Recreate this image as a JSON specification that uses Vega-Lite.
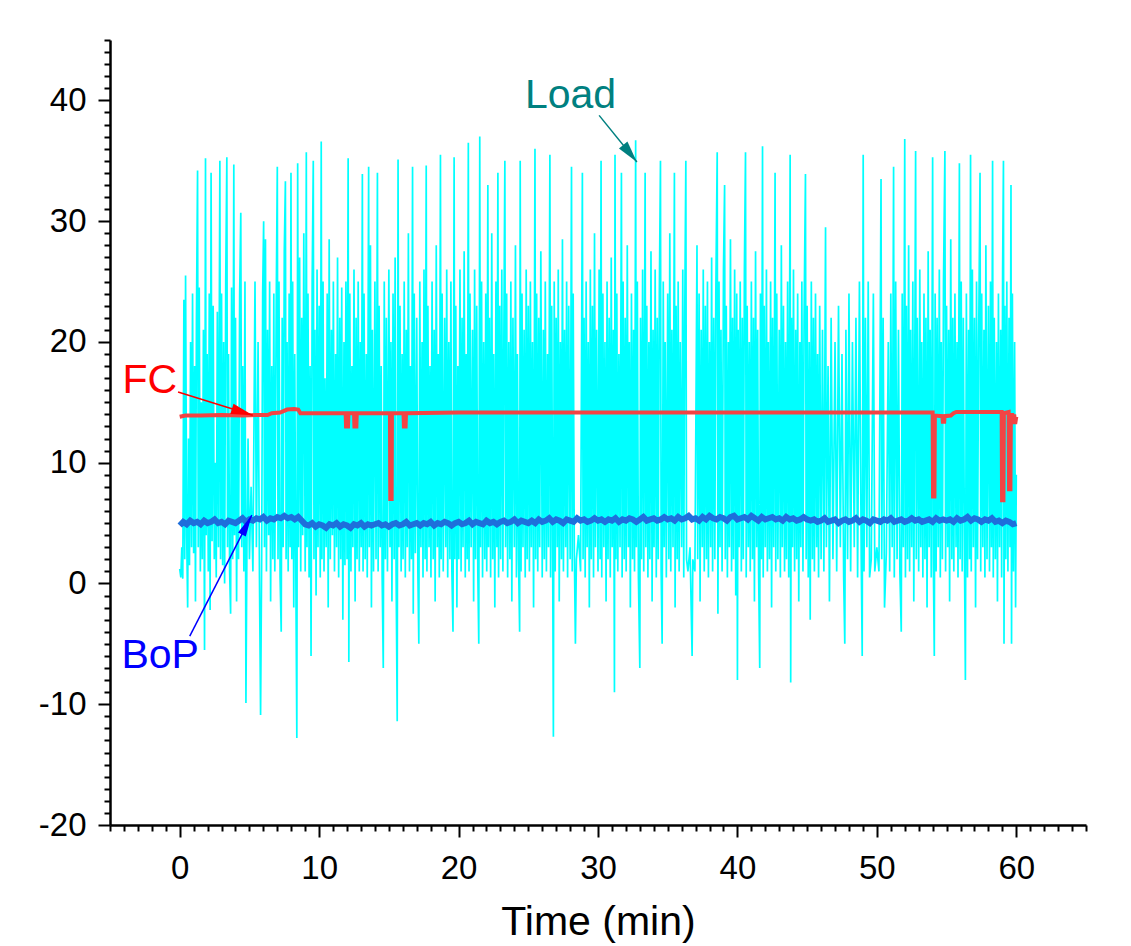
{
"$schema":"https://vega.github.io/schema/vega-lite/v6.json",
"width":976,"height":785,
"autosize":"none",
"padding":{"left":110,"top":40,"right":45,"bottom":121},
"config":{"view":{"stroke":null},"font":"Liberation Sans"},
"datasets":{
"load":[
{"t":0,"v":1.2},{"t":0.08,"v":0.5},{"t":0.15,"v":3},{"t":0.22,"v":0.4},{"t":0.3,"v":23.5},{"t":0.36,"v":2},{"t":0.42,"v":25.5},{"t":0.5,"v":4},{"t":0.57,"v":-2},{"t":0.63,"v":12},{"t":0.7,"v":1.5},{"t":0.78,"v":20},{"t":0.85,"v":3},{"t":0.92,"v":24},
{"t":1,"v":2.5},{"t":1.07,"v":18},{"t":1.13,"v":-1.5},{"t":1.2,"v":22},{"t":1.28,"v":34.2},{"t":1.33,"v":3},{"t":1.4,"v":24.5},{"t":1.48,"v":1},{"t":1.55,"v":15},{"t":1.62,"v":2},{"t":1.7,"v":21},{"t":1.78,"v":-5.5},{"t":1.85,"v":35.2},{"t":1.9,"v":4},{"t":1.97,"v":19},
{"t":2.05,"v":1},{"t":2.12,"v":24},{"t":2.18,"v":-2.2},{"t":2.25,"v":34},{"t":2.32,"v":3.5},{"t":2.4,"v":23},{"t":2.48,"v":2},{"t":2.55,"v":10},{"t":2.62,"v":0.5},{"t":2.7,"v":22.5},{"t":2.78,"v":3},{"t":2.88,"v":35},{"t":2.93,"v":2},
{"t":3,"v":24},{"t":3.08,"v":1.5},{"t":3.15,"v":20},{"t":3.22,"v":0},{"t":3.3,"v":25},{"t":3.38,"v":35.3},{"t":3.43,"v":3},{"t":3.5,"v":19},{"t":3.58,"v":1},{"t":3.65,"v":-2.5},{"t":3.72,"v":24.5},{"t":3.8,"v":2},{"t":3.88,"v":34.7},{"t":3.93,"v":4},
{"t":4,"v":22},{"t":4.08,"v":-1.5},{"t":4.15,"v":14},{"t":4.22,"v":2},{"t":4.3,"v":24},{"t":4.38,"v":30.7},{"t":4.45,"v":3},{"t":4.52,"v":18},{"t":4.6,"v":1},{"t":4.68,"v":25},{"t":4.75,"v":-9.9},{"t":4.82,"v":3},{"t":4.9,"v":12},
{"t":5,"v":2},{"t":5.12,"v":8},{"t":5.25,"v":1},{"t":5.4,"v":25},{"t":5.5,"v":3},{"t":5.62,"v":20},{"t":5.72,"v":0.5},{"t":5.8,"v":-10.9},{"t":5.88,"v":2.5},{"t":5.95,"v":24},
{"t":6.02,"v":30},{"t":6.08,"v":3},{"t":6.15,"v":28.5},{"t":6.22,"v":1},{"t":6.3,"v":21},{"t":6.38,"v":4},{"t":6.45,"v":25},{"t":6.52,"v":-1.5},{"t":6.6,"v":18},{"t":6.68,"v":2},{"t":6.75,"v":24},{"t":6.82,"v":1},{"t":6.92,"v":23},
{"t":7,"v":34.5},{"t":7.05,"v":2},{"t":7.12,"v":25},{"t":7.2,"v":0.5},{"t":7.28,"v":-4},{"t":7.35,"v":22},{"t":7.42,"v":3},{"t":7.5,"v":27.5},{"t":7.58,"v":33.3},{"t":7.63,"v":2},{"t":7.7,"v":20},{"t":7.78,"v":1},{"t":7.85,"v":24},{"t":7.92,"v":3},{"t":7.98,"v":34},
{"t":8.04,"v":2},{"t":8.1,"v":25},{"t":8.18,"v":-2},{"t":8.25,"v":19},{"t":8.32,"v":2.5},{"t":8.4,"v":-12.8},{"t":8.46,"v":34.8},{"t":8.52,"v":3},{"t":8.6,"v":27},{"t":8.68,"v":1},{"t":8.75,"v":22},{"t":8.82,"v":4},{"t":8.9,"v":29},
{"t":9,"v":1},{"t":9.08,"v":35.7},{"t":9.13,"v":3},{"t":9.2,"v":24},{"t":9.28,"v":0.5},{"t":9.35,"v":18},{"t":9.42,"v":-6},{"t":9.5,"v":25},{"t":9.58,"v":35},{"t":9.63,"v":2},{"t":9.7,"v":21},{"t":9.78,"v":-1},{"t":9.85,"v":26},{"t":9.92,"v":3},
{"t":10,"v":23},{"t":10.08,"v":0.5},{"t":10.15,"v":36.6},{"t":10.2,"v":2},{"t":10.28,"v":25},{"t":10.35,"v":1},{"t":10.42,"v":17},{"t":10.5,"v":3},{"t":10.58,"v":24},{"t":10.65,"v":-2},{"t":10.72,"v":28.5},{"t":10.8,"v":2},{"t":10.88,"v":21},{"t":10.95,"v":4},
{"t":11.02,"v":25},{"t":11.1,"v":1},{"t":11.18,"v":19},{"t":11.25,"v":3},{"t":11.32,"v":27},{"t":11.4,"v":0.5},{"t":11.48,"v":22},{"t":11.55,"v":2},{"t":11.62,"v":24.5},{"t":11.7,"v":-3},{"t":11.78,"v":20},{"t":11.85,"v":1.5},{"t":11.92,"v":25},
{"t":12,"v":2},{"t":12.08,"v":35.2},{"t":12.13,"v":-6.5},{"t":12.2,"v":24},{"t":12.28,"v":1},{"t":12.35,"v":18},{"t":12.42,"v":3},{"t":12.5,"v":26},{"t":12.58,"v":-1.5},{"t":12.65,"v":22},{"t":12.72,"v":2},{"t":12.8,"v":25},{"t":12.88,"v":1},{"t":12.95,"v":20},
{"t":13.02,"v":3},{"t":13.1,"v":33.9},{"t":13.15,"v":1},{"t":13.22,"v":24},{"t":13.3,"v":2},{"t":13.38,"v":19},{"t":13.45,"v":0.5},{"t":13.55,"v":34.5},{"t":13.6,"v":3},{"t":13.68,"v":28},{"t":13.75,"v":-2},{"t":13.82,"v":21},{"t":13.9,"v":1},
{"t":14,"v":25},{"t":14.08,"v":2},{"t":14.18,"v":34},{"t":14.23,"v":1},{"t":14.3,"v":23},{"t":14.38,"v":3},{"t":14.45,"v":18},{"t":14.52,"v":0.5},{"t":14.6,"v":-7},{"t":14.67,"v":25},{"t":14.75,"v":2},{"t":14.82,"v":22},{"t":14.9,"v":1},
{"t":15,"v":26},{"t":15.08,"v":3},{"t":15.15,"v":20},{"t":15.22,"v":-1.5},{"t":15.3,"v":24},{"t":15.38,"v":2},{"t":15.45,"v":27},{"t":15.52,"v":1},{"t":15.6,"v":-11.4},{"t":15.66,"v":35.1},{"t":15.72,"v":3},{"t":15.8,"v":23},{"t":15.88,"v":1},{"t":15.95,"v":19},
{"t":16.02,"v":2},{"t":16.1,"v":25},{"t":16.18,"v":0.5},{"t":16.25,"v":21},{"t":16.32,"v":3},{"t":16.4,"v":29},{"t":16.48,"v":1},{"t":16.55,"v":18},{"t":16.62,"v":2},{"t":16.7,"v":34.5},{"t":16.75,"v":-2.5},{"t":16.82,"v":24},{"t":16.9,"v":2.5},
{"t":17,"v":22},{"t":17.08,"v":1},{"t":17.15,"v":-5},{"t":17.22,"v":25},{"t":17.3,"v":3},{"t":17.38,"v":20},{"t":17.45,"v":0.5},{"t":17.52,"v":26},{"t":17.6,"v":2},{"t":17.68,"v":34.6},{"t":17.73,"v":1},{"t":17.8,"v":23},{"t":17.88,"v":3},{"t":17.95,"v":18},
{"t":18.02,"v":0.5},{"t":18.1,"v":25},{"t":18.18,"v":2},{"t":18.25,"v":21},{"t":18.32,"v":-1.5},{"t":18.4,"v":28},{"t":18.48,"v":3},{"t":18.55,"v":19},{"t":18.62,"v":0.5},{"t":18.7,"v":35.5},{"t":18.75,"v":2},{"t":18.82,"v":24},{"t":18.9,"v":1},
{"t":19,"v":22},{"t":19.08,"v":3},{"t":19.15,"v":26},{"t":19.22,"v":0.5},{"t":19.3,"v":20},{"t":19.38,"v":2},{"t":19.45,"v":25},{"t":19.52,"v":1},{"t":19.6,"v":-4},{"t":19.68,"v":35.3},{"t":19.73,"v":2},{"t":19.8,"v":23},{"t":19.88,"v":-2},{"t":19.95,"v":18},
{"t":20.02,"v":2},{"t":20.1,"v":26},{"t":20.18,"v":1},{"t":20.25,"v":22},{"t":20.32,"v":3},{"t":20.4,"v":27.5},{"t":20.48,"v":0.5},{"t":20.55,"v":19},{"t":20.62,"v":2},{"t":20.7,"v":36.5},{"t":20.75,"v":1},{"t":20.82,"v":24},{"t":20.9,"v":3},
{"t":21,"v":21},{"t":21.08,"v":-1.5},{"t":21.15,"v":26},{"t":21.22,"v":2},{"t":21.3,"v":23},{"t":21.38,"v":1},{"t":21.45,"v":-5},{"t":21.52,"v":37},{"t":21.57,"v":3},{"t":21.65,"v":25},{"t":21.72,"v":0.5},{"t":21.8,"v":20},{"t":21.88,"v":2},{"t":21.95,"v":24},
{"t":22.02,"v":1},{"t":22.1,"v":33},{"t":22.15,"v":3},{"t":22.22,"v":22},{"t":22.3,"v":0.5},{"t":22.38,"v":29},{"t":22.45,"v":2},{"t":22.52,"v":19},{"t":22.6,"v":-2},{"t":22.68,"v":25},{"t":22.75,"v":3},{"t":22.82,"v":34},{"t":22.87,"v":0.5},{"t":22.95,"v":23},
{"t":23.02,"v":2},{"t":23.1,"v":26},{"t":23.18,"v":1},{"t":23.25,"v":21},{"t":23.32,"v":35},{"t":23.37,"v":3},{"t":23.45,"v":24},{"t":23.52,"v":0.5},{"t":23.6,"v":20},{"t":23.68,"v":2},{"t":23.75,"v":25},{"t":23.82,"v":-1.5},{"t":23.9,"v":22},
{"t":24,"v":3},{"t":24.08,"v":28},{"t":24.15,"v":0.5},{"t":24.22,"v":19},{"t":24.3,"v":2},{"t":24.38,"v":-4},{"t":24.42,"v":35},{"t":24.48,"v":1},{"t":24.55,"v":24},{"t":24.62,"v":3},{"t":24.7,"v":21},{"t":24.78,"v":0.5},{"t":24.85,"v":26},{"t":24.92,"v":2},
{"t":25,"v":23},{"t":25.08,"v":1},{"t":25.15,"v":25},{"t":25.22,"v":3},{"t":25.3,"v":20},{"t":25.38,"v":-2},{"t":25.48,"v":36},{"t":25.53,"v":2},{"t":25.6,"v":24},{"t":25.68,"v":1},{"t":25.75,"v":22},{"t":25.82,"v":3},{"t":25.9,"v":27.5},
{"t":26,"v":0.5},{"t":26.08,"v":21},{"t":26.15,"v":2},{"t":26.22,"v":25},{"t":26.3,"v":1},{"t":26.38,"v":19},{"t":26.45,"v":3},{"t":26.55,"v":35.5},{"t":26.6,"v":0.5},{"t":26.68,"v":23},{"t":26.75,"v":2},{"t":26.8,"v":-12.7},{"t":26.86,"v":25},{"t":26.93,"v":1},
{"t":27,"v":22},{"t":27.08,"v":3},{"t":27.15,"v":26},{"t":27.22,"v":-1.5},{"t":27.3,"v":20},{"t":27.38,"v":2},{"t":27.45,"v":28.5},{"t":27.52,"v":1},{"t":27.6,"v":21},{"t":27.68,"v":3},{"t":27.75,"v":25},{"t":27.82,"v":0.5},{"t":27.9,"v":23},
{"t":28,"v":2},{"t":28.1,"v":34.5},{"t":28.15,"v":1},{"t":28.22,"v":24},{"t":28.3,"v":3},{"t":28.38,"v":-5},{"t":28.45,"v":2},{"t":28.6,"v":4},{"t":28.75,"v":1},{"t":28.88,"v":34},{"t":28.93,"v":2},
{"t":29,"v":22},{"t":29.08,"v":0.5},{"t":29.15,"v":25},{"t":29.22,"v":3},{"t":29.3,"v":20},{"t":29.38,"v":-2},{"t":29.45,"v":26},{"t":29.52,"v":2},{"t":29.6,"v":23},{"t":29.68,"v":0.5},{"t":29.75,"v":29},{"t":29.82,"v":3},{"t":29.9,"v":21},
{"t":30,"v":1},{"t":30.08,"v":26},{"t":30.15,"v":2},{"t":30.22,"v":35},{"t":30.27,"v":0.5},{"t":30.35,"v":24},{"t":30.42,"v":3},{"t":30.5,"v":20},{"t":30.58,"v":-1.5},{"t":30.65,"v":25},{"t":30.72,"v":2},{"t":30.8,"v":22},{"t":30.88,"v":0.5},{"t":30.95,"v":27},
{"t":31.02,"v":3},{"t":31.1,"v":21},{"t":31.18,"v":-9},{"t":31.22,"v":35.5},{"t":31.28,"v":2},{"t":31.35,"v":24},{"t":31.42,"v":1},{"t":31.5,"v":19},{"t":31.58,"v":3},{"t":31.68,"v":34},{"t":31.73,"v":0.5},{"t":31.8,"v":25},{"t":31.88,"v":2},{"t":31.95,"v":22},
{"t":32.02,"v":1},{"t":32.1,"v":28},{"t":32.18,"v":3},{"t":32.25,"v":20},{"t":32.32,"v":-2},{"t":32.4,"v":24},{"t":32.48,"v":2},{"t":32.55,"v":21},{"t":32.62,"v":1},{"t":32.7,"v":36.7},{"t":32.75,"v":3},{"t":32.82,"v":25},{"t":32.9,"v":0.5},
{"t":33,"v":-7},{"t":33.05,"v":22},{"t":33.12,"v":2},{"t":33.2,"v":26},{"t":33.28,"v":1},{"t":33.38,"v":34},{"t":33.43,"v":3},{"t":33.5,"v":23},{"t":33.58,"v":0.5},{"t":33.65,"v":20},{"t":33.72,"v":2},{"t":33.8,"v":27.5},{"t":33.88,"v":-1.5},{"t":33.95,"v":21},
{"t":34.02,"v":3},{"t":34.1,"v":26},{"t":34.18,"v":0.5},{"t":34.25,"v":22},{"t":34.32,"v":2},{"t":34.4,"v":24},{"t":34.48,"v":35},{"t":34.53,"v":1},{"t":34.6,"v":-5},{"t":34.68,"v":25},{"t":34.75,"v":3},{"t":34.82,"v":20},{"t":34.9,"v":0.5},
{"t":35,"v":24},{"t":35.08,"v":2},{"t":35.15,"v":29},{"t":35.22,"v":1},{"t":35.3,"v":21},{"t":35.38,"v":3},{"t":35.48,"v":34},{"t":35.53,"v":-2},{"t":35.6,"v":23},{"t":35.68,"v":2},{"t":35.75,"v":25},{"t":35.82,"v":1},{"t":35.9,"v":20},
{"t":36,"v":3},{"t":36.08,"v":26},{"t":36.15,"v":0.5},{"t":36.22,"v":22},{"t":36.3,"v":35},{"t":36.35,"v":2},{"t":36.45,"v":1},{"t":36.6,"v":3},{"t":36.75,"v":-6},{"t":36.8,"v":2},{"t":36.95,"v":1},
{"t":37.1,"v":28},{"t":37.15,"v":2},{"t":37.25,"v":24},{"t":37.32,"v":-1.5},{"t":37.4,"v":21},{"t":37.48,"v":3},{"t":37.55,"v":26},{"t":37.62,"v":1},{"t":37.7,"v":23},{"t":37.78,"v":2},{"t":37.85,"v":25},{"t":37.92,"v":0.5},
{"t":38,"v":20},{"t":38.08,"v":3},{"t":38.15,"v":27},{"t":38.22,"v":1},{"t":38.3,"v":22},{"t":38.38,"v":2},{"t":38.45,"v":24},{"t":38.55,"v":35.7},{"t":38.6,"v":-2.5},{"t":38.68,"v":25},{"t":38.75,"v":3},{"t":38.82,"v":21},{"t":38.9,"v":1},
{"t":39,"v":26},{"t":39.08,"v":33},{"t":39.13,"v":2},{"t":39.2,"v":23},{"t":39.28,"v":0.5},{"t":39.35,"v":20},{"t":39.42,"v":3},{"t":39.5,"v":28.5},{"t":39.58,"v":1},{"t":39.65,"v":22},{"t":39.72,"v":2},{"t":39.8,"v":26},{"t":39.88,"v":-1},{"t":39.95,"v":24},
{"t":40,"v":-8},{"t":40.05,"v":21},{"t":40.12,"v":3},{"t":40.2,"v":25},{"t":40.28,"v":1},{"t":40.35,"v":22},{"t":40.42,"v":2},{"t":40.5,"v":26},{"t":40.58,"v":35.7},{"t":40.63,"v":0.5},{"t":40.7,"v":23},{"t":40.78,"v":3},{"t":40.85,"v":20},{"t":40.92,"v":1},
{"t":41,"v":25},{"t":41.08,"v":2},{"t":41.15,"v":22},{"t":41.22,"v":-1.5},{"t":41.3,"v":27.5},{"t":41.38,"v":3},{"t":41.45,"v":21},{"t":41.52,"v":1},{"t":41.6,"v":-7},{"t":41.65,"v":24},{"t":41.72,"v":2},{"t":41.8,"v":36.2},{"t":41.85,"v":0.5},{"t":41.92,"v":23},
{"t":42,"v":3},{"t":42.08,"v":26},{"t":42.15,"v":1},{"t":42.22,"v":20},{"t":42.3,"v":2},{"t":42.38,"v":25},{"t":42.45,"v":-2},{"t":42.52,"v":22},{"t":42.6,"v":3},{"t":42.7,"v":34},{"t":42.75,"v":1},{"t":42.82,"v":24},{"t":42.9,"v":2},
{"t":43,"v":21},{"t":43.08,"v":0.5},{"t":43.15,"v":28},{"t":43.22,"v":3},{"t":43.3,"v":23},{"t":43.38,"v":1},{"t":43.45,"v":20},{"t":43.52,"v":2},{"t":43.6,"v":25},{"t":43.68,"v":0.5},{"t":43.78,"v":35.5},{"t":43.82,"v":-8.2},{"t":43.88,"v":22},{"t":43.95,"v":3},
{"t":44.02,"v":26},{"t":44.1,"v":1},{"t":44.18,"v":21},{"t":44.25,"v":2},{"t":44.32,"v":24},{"t":44.4,"v":-1.5},{"t":44.48,"v":20},{"t":44.55,"v":3},{"t":44.62,"v":25},{"t":44.7,"v":1},{"t":44.78,"v":22},{"t":44.88,"v":33.9},{"t":44.93,"v":2},
{"t":45,"v":23},{"t":45.08,"v":0.5},{"t":45.15,"v":20},{"t":45.22,"v":-3},{"t":45.3,"v":25},{"t":45.38,"v":2},{"t":45.45,"v":22},{"t":45.52,"v":1},{"t":45.6,"v":24},{"t":45.68,"v":3},{"t":45.75,"v":19},{"t":45.82,"v":0.5},{"t":45.9,"v":23},
{"t":46,"v":2},{"t":46.1,"v":21},{"t":46.2,"v":1},{"t":46.32,"v":29.5},{"t":46.38,"v":3},{"t":46.5,"v":18},{"t":46.6,"v":-1.5},{"t":46.72,"v":22},{"t":46.85,"v":2},
{"t":47,"v":20},{"t":47.12,"v":1},{"t":47.25,"v":23},{"t":47.38,"v":3},{"t":47.5,"v":19},{"t":47.62,"v":0.5},{"t":47.7,"v":-5},{"t":47.78,"v":21},{"t":47.9,"v":2},
{"t":48,"v":24},{"t":48.12,"v":1},{"t":48.25,"v":20},{"t":48.38,"v":3},{"t":48.5,"v":22},{"t":48.62,"v":0.5},{"t":48.75,"v":25},{"t":48.88,"v":2},{"t":48.95,"v":-6},
{"t":49.02,"v":35.5},{"t":49.08,"v":1},{"t":49.18,"v":22},{"t":49.28,"v":3},{"t":49.38,"v":25},{"t":49.48,"v":0.5},{"t":49.6,"v":2},{"t":49.75,"v":24},{"t":49.85,"v":1},
{"t":50,"v":3},{"t":50.15,"v":1},{"t":50.3,"v":33.5},{"t":50.35,"v":2},{"t":50.45,"v":22},{"t":50.55,"v":-2},{"t":50.68,"v":2.5},{"t":50.82,"v":20},{"t":50.92,"v":1},
{"t":51,"v":24},{"t":51.1,"v":3},{"t":51.2,"v":34.5},{"t":51.25,"v":0.5},{"t":51.35,"v":25},{"t":51.45,"v":2},{"t":51.55,"v":21},{"t":51.65,"v":1},{"t":51.75,"v":-4},{"t":51.82,"v":24},{"t":51.9,"v":3},
{"t":52,"v":36.8},{"t":52.05,"v":0.5},{"t":52.12,"v":23},{"t":52.2,"v":2},{"t":52.28,"v":28},{"t":52.35,"v":1},{"t":52.42,"v":21},{"t":52.5,"v":3},{"t":52.58,"v":25},{"t":52.65,"v":-1.5},{"t":52.78,"v":35.8},{"t":52.83,"v":2},{"t":52.9,"v":22},
{"t":53,"v":1},{"t":53.08,"v":26},{"t":53.15,"v":3},{"t":53.22,"v":20},{"t":53.3,"v":0.5},{"t":53.38,"v":24},{"t":53.45,"v":2},{"t":53.52,"v":22},{"t":53.6,"v":-2},{"t":53.68,"v":27.5},{"t":53.75,"v":3},{"t":53.82,"v":21},{"t":53.9,"v":0.5},
{"t":54,"v":35.3},{"t":54.05,"v":2},{"t":54.12,"v":-6},{"t":54.18,"v":24},{"t":54.25,"v":1},{"t":54.32,"v":22},{"t":54.4,"v":3},{"t":54.48,"v":26},{"t":54.55,"v":0.5},{"t":54.62,"v":20},{"t":54.7,"v":2},{"t":54.78,"v":25},{"t":54.88,"v":35.8},{"t":54.93,"v":1},
{"t":55,"v":23},{"t":55.08,"v":3},{"t":55.15,"v":21},{"t":55.22,"v":-1.5},{"t":55.3,"v":28.5},{"t":55.38,"v":2},{"t":55.45,"v":22},{"t":55.52,"v":1},{"t":55.6,"v":24},{"t":55.68,"v":3},{"t":55.75,"v":20},{"t":55.82,"v":0.5},{"t":55.92,"v":34.8},{"t":55.97,"v":2},
{"t":56.05,"v":25},{"t":56.12,"v":1},{"t":56.2,"v":22},{"t":56.28,"v":3},{"t":56.35,"v":-8},{"t":56.42,"v":24},{"t":56.5,"v":0.5},{"t":56.58,"v":21},{"t":56.65,"v":2},{"t":56.72,"v":35.5},{"t":56.77,"v":1},{"t":56.85,"v":26},{"t":56.92,"v":3},
{"t":57,"v":22},{"t":57.08,"v":-2},{"t":57.15,"v":25},{"t":57.22,"v":2},{"t":57.3,"v":20},{"t":57.4,"v":34},{"t":57.45,"v":1},{"t":57.52,"v":24},{"t":57.6,"v":3},{"t":57.68,"v":21},{"t":57.75,"v":0.5},{"t":57.82,"v":28},{"t":57.9,"v":2},
{"t":58,"v":23},{"t":58.08,"v":1},{"t":58.15,"v":25},{"t":58.22,"v":3},{"t":58.3,"v":35},{"t":58.35,"v":0.5},{"t":58.42,"v":22},{"t":58.5,"v":2},{"t":58.58,"v":20},{"t":58.65,"v":-1.5},{"t":58.72,"v":24},{"t":58.8,"v":3},{"t":58.88,"v":21},{"t":58.95,"v":0.5},
{"t":59.02,"v":26},{"t":59.08,"v":35},{"t":59.12,"v":-5},{"t":59.18,"v":23},{"t":59.25,"v":2},{"t":59.32,"v":25},{"t":59.4,"v":1},{"t":59.48,"v":22},{"t":59.55,"v":3},{"t":59.62,"v":33},{"t":59.66,"v":-5},{"t":59.72,"v":24},{"t":59.8,"v":1},{"t":59.88,"v":20},{"t":59.95,"v":-2},{"t":60,"v":9}
],
"fc":[
{"t":0,"v":13.8},{"t":0.4,"v":13.9},{"t":1.5,"v":13.9},{"t":3,"v":13.95},{"t":4.5,"v":13.9},{"t":5.5,"v":13.95},{"t":6.3,"v":13.95},{"t":6.6,"v":14.1},{"t":7.2,"v":14.15},{"t":7.7,"v":14.4},{"t":8.2,"v":14.45},{"t":8.5,"v":14.4},{"t":8.65,"v":14.1},{"t":10,"v":14.1},{"t":11.9,"v":14.1},{"t":11.93,"v":13},{"t":12.07,"v":13},{"t":12.1,"v":14.1},{"t":12.5,"v":14.1},{"t":12.53,"v":13},{"t":12.67,"v":13},{"t":12.7,"v":14.1},{"t":15.08,"v":14.1},{"t":15.1,"v":7},{"t":15.2,"v":7},{"t":15.22,"v":14.1},{"t":16.05,"v":14.1},{"t":16.08,"v":13},{"t":16.2,"v":13},{"t":16.23,"v":14.1},{"t":20,"v":14.15},{"t":30,"v":14.15},{"t":40,"v":14.15},{"t":50,"v":14.15},{"t":54,"v":14.15},{"t":54.03,"v":7.2},{"t":54.13,"v":7.2},{"t":54.16,"v":13.9},{"t":54.7,"v":13.85},{"t":54.73,"v":13.4},{"t":54.83,"v":13.4},{"t":54.86,"v":13.85},{"t":55.3,"v":13.9},{"t":55.5,"v":14.1},{"t":55.7,"v":14.2},{"t":58.95,"v":14.2},{"t":58.98,"v":6.9},{"t":59.08,"v":6.9},{"t":59.11,"v":14.1},{"t":59.45,"v":14.2},{"t":59.48,"v":7.8},{"t":59.58,"v":7.8},{"t":59.61,"v":13.6},{"t":59.7,"v":14.1},{"t":59.78,"v":13.2},{"t":59.85,"v":14},{"t":59.92,"v":13.2},{"t":60,"v":13.8}
],
"bop":[
{"t":0,"v":4.8},{"t":0.25,"v":5.1},{"t":0.5,"v":4.9},{"t":0.75,"v":5.2},{"t":1,"v":5},{"t":1.25,"v":5.1},{"t":1.5,"v":4.9},{"t":1.75,"v":5.2},{"t":2,"v":5},{"t":2.25,"v":5.1},{"t":2.5,"v":5.3},{"t":2.75,"v":5},{"t":3,"v":5.1},{"t":3.25,"v":4.9},{"t":3.5,"v":5.2},{"t":3.75,"v":5.1},{"t":4,"v":5},{"t":4.25,"v":5.2},{"t":4.5,"v":5.4},{"t":4.75,"v":5.1},{"t":5,"v":5.3},
{"t":5.25,"v":5.2},{"t":5.5,"v":5.4},{"t":5.75,"v":5.3},{"t":6,"v":5.5},{"t":6.25,"v":5.2},{"t":6.5,"v":5.4},{"t":6.75,"v":5.3},{"t":7,"v":5.5},{"t":7.25,"v":5.4},{"t":7.5,"v":5.6},{"t":7.75,"v":5.4},{"t":8,"v":5.5},{"t":8.25,"v":5.3},{"t":8.5,"v":5.5},
{"t":8.75,"v":5.2},{"t":9,"v":4.9},{"t":9.25,"v":4.8},{"t":9.5,"v":5},{"t":9.75,"v":4.7},{"t":10,"v":4.9},{"t":10.25,"v":4.8},{"t":10.5,"v":4.6},{"t":10.75,"v":4.9},{"t":11,"v":4.8},{"t":11.25,"v":5},{"t":11.5,"v":4.7},{"t":11.75,"v":4.9},{"t":12,"v":4.8},{"t":12.25,"v":4.6},{"t":12.5,"v":4.9},{"t":12.75,"v":4.8},{"t":13,"v":5},{"t":13.25,"v":4.7},{"t":13.5,"v":4.9},{"t":13.75,"v":4.8},{"t":14,"v":4.9},
{"t":14.25,"v":5},{"t":14.5,"v":4.8},{"t":14.75,"v":4.9},{"t":15,"v":4.7},{"t":15.25,"v":4.9},{"t":15.5,"v":5},{"t":15.75,"v":4.8},{"t":16,"v":4.9},{"t":16.25,"v":5.1},{"t":16.5,"v":4.8},{"t":16.75,"v":4.9},{"t":17,"v":5},{"t":17.25,"v":4.8},{"t":17.5,"v":5},{"t":17.75,"v":4.9},{"t":18,"v":5.1},{"t":18.25,"v":4.8},{"t":18.5,"v":5},{"t":18.75,"v":4.9},{"t":19,"v":5.1},{"t":19.25,"v":5},{"t":19.5,"v":4.8},{"t":19.75,"v":5},{"t":20,"v":5.1},{"t":20.25,"v":4.9},{"t":20.5,"v":5},{"t":20.75,"v":5.2},{"t":21,"v":4.9},{"t":21.25,"v":5.1},{"t":21.5,"v":5},{"t":21.75,"v":4.9},{"t":22,"v":5.2},{"t":22.25,"v":5},{"t":22.5,"v":5.1},{"t":22.75,"v":4.9},{"t":23,"v":5.1},{"t":23.25,"v":5.2},{"t":23.5,"v":5},{"t":23.75,"v":5.1},{"t":24,"v":5.3},{"t":24.25,"v":5},{"t":24.5,"v":5.2},{"t":24.75,"v":5.1},{"t":25,"v":5},
{"t":25.25,"v":5.2},{"t":25.5,"v":5},{"t":25.75,"v":5.3},{"t":26,"v":5.1},{"t":26.25,"v":5.2},{"t":26.5,"v":5.4},{"t":26.75,"v":5.1},{"t":27,"v":5.3},{"t":27.25,"v":5.2},{"t":27.5,"v":5},{"t":27.75,"v":5.3},{"t":28,"v":5.2},{"t":28.25,"v":5.1},{"t":28.5,"v":5.4},{"t":28.75,"v":5.2},{"t":29,"v":5.3},{"t":29.25,"v":5.1},{"t":29.5,"v":5.2},{"t":29.75,"v":5.4},{"t":30,"v":5.2},{"t":30.25,"v":5.3},{"t":30.5,"v":5.1},{"t":30.75,"v":5.3},{"t":31,"v":5.2},{"t":31.25,"v":5.4},{"t":31.5,"v":5.1},{"t":31.75,"v":5.3},{"t":32,"v":5.2},{"t":32.25,"v":5.4},{"t":32.5,"v":5.3},{"t":32.75,"v":5.1},{"t":33,"v":5.3},{"t":33.25,"v":5.5},{"t":33.5,"v":5.2},{"t":33.75,"v":5.3},{"t":34,"v":5.4},{"t":34.25,"v":5.2},{"t":34.5,"v":5.3},{"t":34.75,"v":5.5},{"t":35,"v":5.3},
{"t":35.25,"v":5.4},{"t":35.5,"v":5.2},{"t":35.75,"v":5.5},{"t":36,"v":5.3},{"t":36.25,"v":5.4},{"t":36.5,"v":5.6},{"t":36.75,"v":5.3},{"t":37,"v":5.4},{"t":37.25,"v":5.2},{"t":37.5,"v":5.5},{"t":37.75,"v":5.3},{"t":38,"v":5.6},{"t":38.25,"v":5.4},{"t":38.5,"v":5.3},{"t":38.75,"v":5.5},{"t":39,"v":5.4},{"t":39.25,"v":5.2},{"t":39.5,"v":5.5},{"t":39.75,"v":5.6},{"t":40,"v":5.3},{"t":40.25,"v":5.4},{"t":40.5,"v":5.5},{"t":40.75,"v":5.3},{"t":41,"v":5.6},{"t":41.25,"v":5.4},{"t":41.5,"v":5.2},{"t":41.75,"v":5.5},{"t":42,"v":5.3},{"t":42.25,"v":5.4},{"t":42.5,"v":5.5},{"t":42.75,"v":5.3},{"t":43,"v":5.4},{"t":43.25,"v":5.2},{"t":43.5,"v":5.5},{"t":43.75,"v":5.3},{"t":44,"v":5.4},{"t":44.25,"v":5.2},{"t":44.5,"v":5.3},{"t":44.75,"v":5.5},{"t":45,"v":5.3},
{"t":45.25,"v":5.2},{"t":45.5,"v":5.3},{"t":45.75,"v":5.1},{"t":46,"v":5.2},{"t":46.25,"v":5.4},{"t":46.5,"v":5.1},{"t":46.75,"v":5.2},{"t":47,"v":5.3},{"t":47.25,"v":5},{"t":47.5,"v":5.2},{"t":47.75,"v":5.3},{"t":48,"v":5.1},{"t":48.25,"v":5.2},{"t":48.5,"v":5.4},{"t":48.75,"v":5.1},{"t":49,"v":5.3},{"t":49.25,"v":5.2},{"t":49.5,"v":5},{"t":49.75,"v":5.3},{"t":50,"v":5.2},{"t":50.25,"v":5.1},{"t":50.5,"v":5.3},{"t":50.75,"v":5.2},{"t":51,"v":5.4},{"t":51.25,"v":5.1},{"t":51.5,"v":5.2},{"t":51.75,"v":5.3},{"t":52,"v":5.1},{"t":52.25,"v":5.2},{"t":52.5,"v":5.4},{"t":52.75,"v":5.2},{"t":53,"v":5.3},{"t":53.25,"v":5.1},{"t":53.5,"v":5.2},{"t":53.75,"v":5.3},{"t":54,"v":5.1},{"t":54.25,"v":5.4},{"t":54.5,"v":5.2},{"t":54.75,"v":5.3},{"t":55,"v":5.2},
{"t":55.25,"v":5.3},{"t":55.5,"v":5.1},{"t":55.75,"v":5.4},{"t":56,"v":5.2},{"t":56.25,"v":5.3},{"t":56.5,"v":5.5},{"t":56.75,"v":5.2},{"t":57,"v":5.4},{"t":57.25,"v":5.3},{"t":57.5,"v":5.1},{"t":57.75,"v":5.3},{"t":58,"v":5.2},{"t":58.25,"v":5.4},{"t":58.5,"v":5.1},{"t":58.75,"v":5.2},{"t":59,"v":5},{"t":59.25,"v":5.2},{"t":59.5,"v":5.1},{"t":59.75,"v":4.9},{"t":60,"v":5}
],
"notes":[
{"name":"Load","t":28.03,"v":39.34},
{"name":"FC","t":-2.15,"v":15.73},
{"name":"BoP","t":-1.4,"v":-6.98}
],
"arrows":[
{"name":"Load","t":30.08,"v":38.76,"t2":32.79,"v2":34.9},
{"name":"FC","t":-0.12,"v":15.86,"t2":5.24,"v2":13.93},
{"name":"BoP","t":0.72,"v":-4.36,"t2":5.17,"v2":5.66}
]
},
"layer":[
{"data":{"name":"load"},
 "mark":{"type":"line","color":"#00FFFF","strokeWidth":1.7,"clip":true},
 "encoding":{
  "x":{"field":"t","type":"quantitative","title":"Time (min)",
   "scale":{"domain":[-5,65],"nice":false,"zero":false},
   "axis":{"values":[-5,-4,-3,-2,-1,0,1,2,3,4,5,6,7,8,9,10,11,12,13,14,15,16,17,18,19,20,21,22,23,24,25,26,27,28,29,30,31,32,33,34,35,36,37,38,39,40,41,42,43,44,45,46,47,48,49,50,51,52,53,54,55,56,57,58,59,60,61,62,63,64,65],
    "tickCount":500,
    "labelExpr":"datum.value % 10 === 0 ? '' + datum.value : ''",
    "tickSize":{"condition":{"test":"datum.value % 10 === 0","value":12},"value":6},
    "tickWidth":2,"tickColor":"black","domainColor":"black","domainWidth":2.5,
    "grid":false,"labelOverlap":false,"labelFlush":false,
    "labelFont":"Liberation Sans","labelFontSize":33,"labelColor":"black","labelPadding":15,
    "titleFont":"Liberation Sans","titleFontSize":41,"titleFontWeight":"normal","titleColor":"black","titlePadding":17}},
  "y":{"field":"v","type":"quantitative","title":null,
   "scale":{"domain":[-20,45],"nice":false,"zero":false},
   "axis":{"values":[-20,-19,-18,-17,-16,-15,-14,-13,-12,-11,-10,-9,-8,-7,-6,-5,-4,-3,-2,-1,0,1,2,3,4,5,6,7,8,9,10,11,12,13,14,15,16,17,18,19,20,21,22,23,24,25,26,27,28,29,30,31,32,33,34,35,36,37,38,39,40,41,42,43,44,45],
    "tickCount":500,
    "labelExpr":"datum.value % 10 === 0 ? '' + datum.value : ''",
    "tickSize":{"condition":{"test":"datum.value % 10 === 0","value":12},"value":6},
    "tickWidth":2,"tickColor":"black","domainColor":"black","domainWidth":2.5,
    "grid":false,"labelOverlap":false,"labelFlush":false,
    "labelFont":"Liberation Sans","labelFontSize":33,"labelColor":"black","labelPadding":12}}
 }},
{"data":{"name":"fc"},
 "mark":{"type":"line","color":"#F24444","strokeWidth":4},
 "encoding":{"x":{"field":"t","type":"quantitative","title":"Time (min)"},"y":{"field":"v","type":"quantitative","title":null}}},
{"data":{"name":"bop"},
 "mark":{"type":"line","color":"#1E6FDB","strokeWidth":6},
 "encoding":{"x":{"field":"t","type":"quantitative","title":"Time (min)"},"y":{"field":"v","type":"quantitative","title":null}}},
{"data":{"name":"arrows"},
 "mark":{"type":"rule","strokeWidth":1.5},
 "encoding":{"x":{"field":"t","type":"quantitative","title":"Time (min)"},"y":{"field":"v","type":"quantitative","title":null},
  "x2":{"field":"t2"},"y2":{"field":"v2"},
  "color":{"field":"name","type":"nominal","scale":{"domain":["Load","FC","BoP"],"range":["#008080","#FF0000","#0000FF"]},"legend":null}}},
{"data":{"name":"arrows"},"transform":[{"filter":"datum.name === 'Load'"}],
 "mark":{"type":"point","shape":"M0,0 L0.25,1 L-0.25,1 Z","filled":true,"opacity":1,"size":1900,"angle":141,"color":"#008080"},
 "encoding":{"x":{"field":"t2","type":"quantitative","title":"Time (min)"},"y":{"field":"v2","type":"quantitative","title":null}}},
{"data":{"name":"arrows"},"transform":[{"filter":"datum.name === 'FC'"}],
 "mark":{"type":"point","shape":"M0,0 L0.25,1 L-0.25,1 Z","filled":true,"opacity":1,"size":1900,"angle":107,"color":"#FF0000"},
 "encoding":{"x":{"field":"t2","type":"quantitative","title":"Time (min)"},"y":{"field":"v2","type":"quantitative","title":null}}},
{"data":{"name":"arrows"},"transform":[{"filter":"datum.name === 'BoP'"}],
 "mark":{"type":"point","shape":"M0,0 L0.2,1 L-0.2,1 Z","filled":true,"opacity":1,"size":1900,"angle":27,"color":"#0000FF"},
 "encoding":{"x":{"field":"t2","type":"quantitative","title":"Time (min)"},"y":{"field":"v2","type":"quantitative","title":null}}},
{"data":{"name":"notes"},
 "mark":{"type":"text","font":"Liberation Sans","fontSize":41,"baseline":"alphabetic","align":"center"},
 "encoding":{"x":{"field":"t","type":"quantitative","title":"Time (min)"},"y":{"field":"v","type":"quantitative","title":null},
  "text":{"field":"name"},
  "color":{"field":"name","type":"nominal","scale":{"domain":["Load","FC","BoP"],"range":["#008080","#FF0000","#0000FF"]},"legend":null}}}
]
}
